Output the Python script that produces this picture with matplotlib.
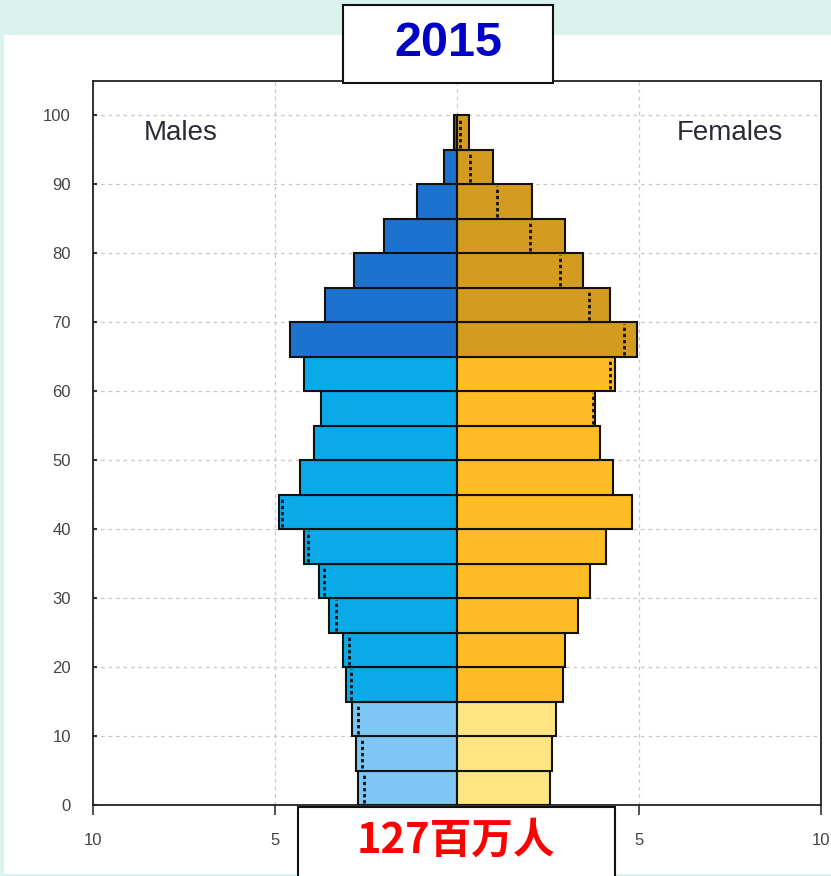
import matplotlib
matplotlib.use("Agg")
import matplotlib.pyplot as plt
from matplotlib.patches import Rectangle
import numpy as np

# ---------------- data ----------------
age_starts = [0, 5, 10, 15, 20, 25, 30, 35, 40, 45, 50, 55, 60, 65, 70, 75, 80, 85, 90, 95]
males = [2.73, 2.77, 2.88, 3.05, 3.12, 3.53, 3.79, 4.21, 4.90, 4.31,
         3.92, 3.74, 4.21, 4.58, 3.63, 2.83, 2.01, 1.09, 0.36, 0.07]
females = [2.55, 2.62, 2.73, 2.90, 2.96, 3.32, 3.66, 4.10, 4.82, 4.28,
           3.93, 3.79, 4.34, 4.94, 4.19, 3.47, 2.97, 2.05, 0.99, 0.32]
x_ticks = [-10, -5, 0, 5, 10]
x_tick_labels = ["10", "5", "", "5", "10"]
y_ticks = [0, 10, 20, 30, 40, 50, 60, 70, 80, 90, 100]
title_text = "2015"
total_text = "127百万人"

# colours by age band: 0-14, 15-64, 65+
male_cols = ["#7EC6F4", "#0AAAE8", "#1E72CF"]
female_cols = ["#FFE682", "#FFBC24", "#D39B1F"]

def band(a):
    return 0 if a < 15 else (1 if a < 65 else 2)

W, H = 831, 876
fig = plt.figure(figsize=(W / 100, H / 100), dpi=100, facecolor="#DAF3EF")

# white panel
fig.patches.append(Rectangle((4 / W, (H - 874) / H), (W - 4) / W, (874 - 35) / H,
                             transform=fig.transFigure, facecolor="white",
                             edgecolor="none", zorder=-1))

ax = fig.add_axes([93 / W, (H - 805) / H, (821 - 93) / W, (805 - 81) / H])
ax.set_xlim(-10, 10)
ax.set_ylim(0, 105)

ages = np.array(age_starts)
m = np.array(males)
f = np.array(females)
mc = [male_cols[band(a)] for a in age_starts]
fc = [female_cols[band(a)] for a in age_starts]

ax.barh(ages, -m, height=5, align="edge", color=mc, edgecolor="#111111",
        linewidth=1.5, zorder=3)
ax.barh(ages, f, height=5, align="edge", color=fc, edgecolor="#111111",
        linewidth=1.5, zorder=3)

# dotted lines: smaller sex mirrored onto the larger side
for a, mv, fv in zip(age_starts, males, females):
    if abs(mv - fv) < 0.03:
        continue
    xv = mv if fv > mv else -fv
    ax.plot([xv, xv], [a + 0.3, a + 4.7], color="#111111", lw=2,
            linestyle=(0, (1.2, 1.0)), zorder=4)

# grid
ax.set_axisbelow(True)
ax.grid(True, linestyle=(0, (3, 3)), color="#c9c9c9", lw=0.9)

for s in ax.spines.values():
    s.set_linewidth(1.3)
    s.set_color("#222222")

ax.set_xticks(x_ticks)
ax.set_xticklabels(x_tick_labels)
ax.set_yticks(y_ticks)
ax.set_yticklabels([str(v) for v in y_ticks])
ax.tick_params(axis="y", direction="in", length=3, width=1.5, color="#333333",
               pad=16, labelsize=12, labelcolor="#444444")
ax.tick_params(axis="x", direction="out", length=7, width=1.2, color="#333333",
               pad=13, labelsize=12, labelcolor="#444444")
for lab in ax.get_xticklabels() + ax.get_yticklabels():
    lab.set_family("Liberation Sans")

ax.text(-8.6, 97.5, "Males", fontsize=20, color="#2b2b38", ha="left", va="center",
        family="Liberation Sans")
ax.text(8.96, 97.5, "Females", fontsize=20, color="#2b2b38", ha="right", va="center",
        family="Liberation Sans")

# title box
fig.patches.append(Rectangle((343 / W, (H - 83) / H), 210 / W, 78 / H,
                             transform=fig.transFigure, facecolor="white",
                             edgecolor="#111111", linewidth=1.5, zorder=5))
fig.text(448 / W, (H - 44) / H, title_text, fontsize=35, fontweight="bold",
         color="#0000C8", ha="center", va="center", family="Liberation Sans",
         zorder=6)

# bottom box
fig.patches.append(Rectangle((298 / W, -0.02), 317 / W, (H - 807) / H + 0.02,
                             transform=fig.transFigure, facecolor="white",
                             edgecolor="#111111", linewidth=1.5, zorder=5))
fig.text(456 / W, (H - 841) / H, total_text, fontsize=30, fontweight="bold",
         color="#FF0000", ha="center", va="center",
         family=["Noto Sans CJK SC", "DejaVu Sans"], zorder=6)

fig.savefig("out.png", dpi=100, facecolor=fig.get_facecolor())
